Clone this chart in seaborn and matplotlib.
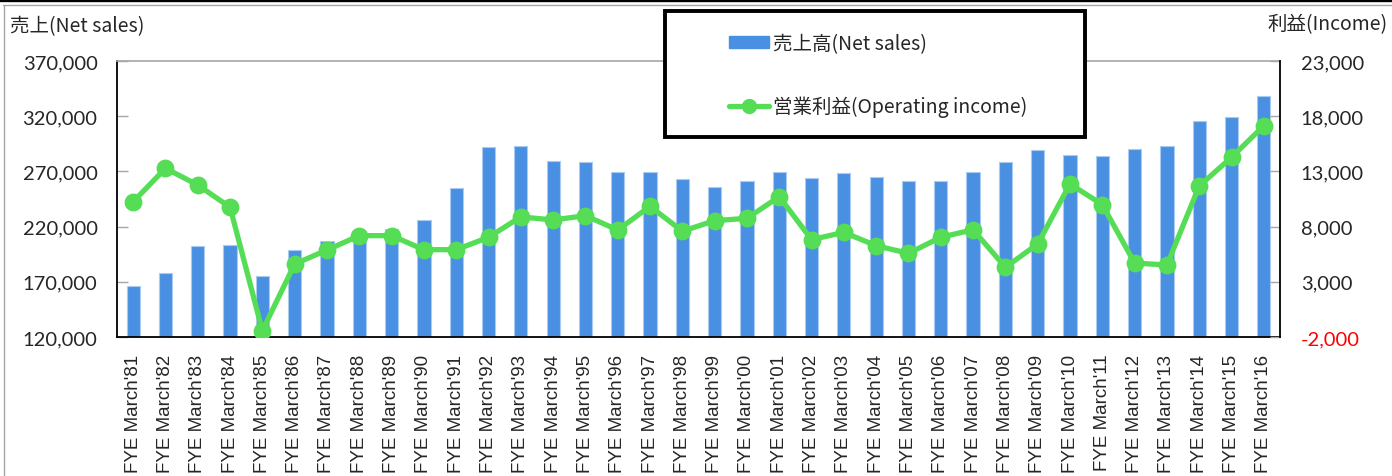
import numpy as np
import pandas as pd
import matplotlib
matplotlib.use("Agg")
import matplotlib.pyplot as plt
import seaborn as sns
from matplotlib.patches import Rectangle, Patch
from matplotlib.lines import Line2D
from matplotlib.ticker import FixedLocator
from matplotlib.font_manager import FontProperties, fontManager

years = ["81", "82", "83", "84", "85", "86", "87", "88", "89", "90", "91", "92",
         "93", "94", "95", "96", "97", "98", "99", "00", "01", "02", "03", "04",
         "05", "06", "07", "08", "09", "10", "11", "12", "13", "14", "15", "16"]
categories = [f"FYE March'{y}" for y in years]
net_sales = [166500, 177700, 202200, 203600, 175000, 198800, 207000, 212500, 218100,
             225700, 254700, 292400, 293000, 279400, 278500, 269200, 269500, 262800,
             255900, 261000, 269200, 264000, 268800, 264900, 261600, 261000, 269500,
             278500, 289400, 284600, 284200, 290300, 293000, 315600, 319600, 338600]
operating_income = [10250, 13280, 11770, 9750, -1430, 4610, 5880, 7180, 7180, 5910,
                    5910, 7030, 8880, 8600, 8990, 7690, 9840, 7580, 8540, 8750, 10710,
                    6820, 7480, 6270, 5580, 7030, 7720, 4310, 6430, 11860, 9990, 4700,
                    4520, 11680, 14280, 17140]
sales_ticks = [120000, 170000, 220000, 270000, 320000, 370000]
income_ticks = [-2000, 3000, 8000, 13000, 18000, 23000]
sales_label = "売上高(Net sales)"
income_label = "営業利益(Operating income)"
left_title = "売上(Net sales)"
right_title = "利益(Income)"

BLUE = "#4A90E2"
GREEN = "#55DD55"
GRAY = "#A6A6A6"

sns.set_theme(style="white")
plt.rcParams['font.family'] = ['Noto Sans CJK JP', 'DejaVu Sans']

# regular (non-narrow) Liberation Sans file
xfont = None
for f in fontManager.ttflist:
    if (f.name == "Liberation Sans" and f.style == "normal" and f.weight in (400, "normal")
            and "Narrow" not in f.fname):
        xfont = FontProperties(fname=f.fname, size=13.5)
        break
if xfont is None:
    xfont = FontProperties(family="Noto Sans", size=13.5)

W, H = 1392, 477
fig = plt.figure(figsize=(W / 100, H / 100), dpi=100)
fig.patch.set_facecolor("white")
ax = fig.add_axes([117 / W, 1 - 338 / H, (1280 - 117) / W, (338 - 62) / H])

df = pd.DataFrame({"category": categories, "sales": net_sales, "income": operating_income})

sns.barplot(data=df, x="category", y="sales", order=categories, color=BLUE, saturation=1,
            width=0.41, edgecolor="#A9CBF2", linewidth=0.8, ax=ax, zorder=2)
ax2 = ax.twinx()
sns.pointplot(data=df, x="category", y="income", order=categories, color=GREEN,
              markers="o", markersize=10, linewidth=3.8, errorbar=None, ax=ax2)

n = len(categories)
ax.set_xlim(-0.5, n - 0.5)
ax.set_ylim(sales_ticks[0], sales_ticks[-1])
ax2.set_ylim(income_ticks[0], income_ticks[-1])
ax.set_yticks(sales_ticks, labels=[f"{v:,}" for v in sales_ticks])
ax2.set_yticks(income_ticks, labels=[f"{v:,}" for v in income_ticks])
for a in (ax, ax2):
    a.set_xlabel("")
    a.set_ylabel("")
    a.grid(False)

ax.tick_params(axis="y", direction="in", length=8, color=GRAY, width=1, pad=14)
ax2.tick_params(axis="y", direction="in", length=7, color=GRAY, width=1, pad=15)
ax.tick_params(axis="x", which="major", length=0, pad=12)
ax.xaxis.set_minor_locator(FixedLocator(np.arange(0.5, n - 1, 1)))
ax.tick_params(axis="x", which="minor", direction="in", length=5, color=GRAY, width=1)

for lab in ax.get_xticklabels():
    lab.set_rotation(90)
    lab.set_fontproperties(xfont)
for t in ax.yaxis.get_major_ticks():
    for lab in (t.label1, t.label2):
        lab.set_family("Lato")
        lab.set_fontsize(14.5)
for i, t in enumerate(ax2.yaxis.get_major_ticks()):
    for lab in (t.label1, t.label2):
        lab.set_family("Lato")
        lab.set_fontsize(14.5)
        if income_ticks[i] < 0:
            lab.set_color("red")

for s in ("left", "bottom"):
    ax.spines[s].set_color("black")
    ax.spines[s].set_linewidth(1.3)
ax.spines["top"].set_color(GRAY)
ax.spines["top"].set_linewidth(1.2)
ax.spines["right"].set_visible(False)
for s in ("left", "bottom", "top"):
    ax2.spines[s].set_visible(False)
ax2.spines["right"].set_color("black")
ax2.spines["right"].set_linewidth(1.3)

# titles
fig.text(10 / W, 1 - 27 / H, left_title, fontsize=14, ha="left", va="center")
fig.text(1388 / W, 1 - 25 / H, right_title, fontsize=14, ha="right", va="center")

# legend box
box = Rectangle((665 / W, 1 - 138 / H), 420 / W, 126 / H, transform=fig.transFigure,
                facecolor="white", edgecolor="black", linewidth=2.8, zorder=3)
fig.add_artist(box)
handles = [Patch(facecolor=BLUE, edgecolor=BLUE),
           Line2D([], [], color=GREEN, lw=3.8, marker="o", markersize=10)]
leg = fig.legend(handles, [sales_label, income_label], loc="upper left",
                 bbox_to_anchor=(729 / W, 1 - 34 / H), frameon=False, fontsize=14,
                 handlelength=2.05, handleheight=0.62, handletextpad=0.2,
                 labelspacing=2.15, borderpad=0, borderaxespad=0)

# outer borders
fig.add_artist(Line2D([0, 1], [1 - 1.2 / H, 1 - 1.2 / H], transform=fig.transFigure,
                      color="black", lw=2.4))
fig.add_artist(Line2D([3 / W, 1], [1 - 5.5 / H, 1 - 5.5 / H], transform=fig.transFigure,
                      color=GRAY, lw=1))
fig.add_artist(Line2D([3.5 / W, 3.5 / W], [0, 1 - 5.5 / H], transform=fig.transFigure,
                      color=GRAY, lw=1))

fig.savefig("out.png", dpi=100)
